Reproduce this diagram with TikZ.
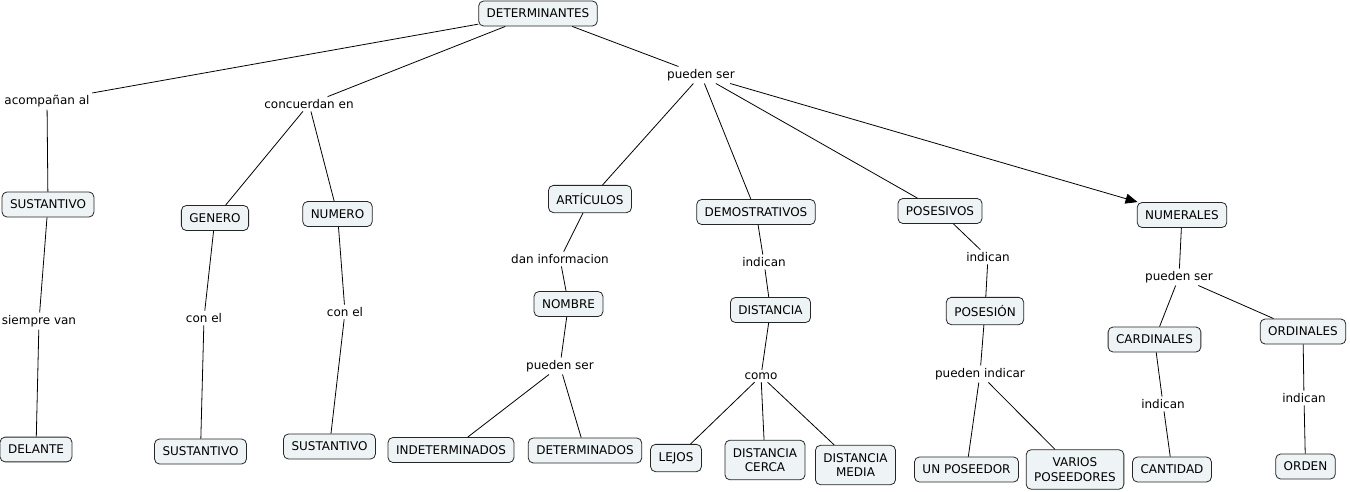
\documentclass[tikz,border=0pt]{standalone}
\usepackage{fontspec}
\setmainfont{DejaVu Sans}
\usetikzlibrary{arrows.meta}
\definecolor{cfill}{RGB}{238,244,246}
\tikzset{
  concept/.style={draw=black!85,fill=cfill,rounded corners=5pt,line width=.8pt,
    inner xsep=8pt,inner ysep=8pt,align=center,font=\fontsize{12pt}{14.5pt}\selectfont},
  link/.style={inner sep=2.5pt,font=\fontsize{12pt}{14.5pt}\selectfont},
  con/.style={line width=.8pt}
}
\begin{document}
\begin{tikzpicture}[x=1pt,y=-1pt]
\useasboundingbox (0,0) rectangle (1350,491);
\node[concept] (det) at (538,13.5) {DETERMINANTES};
\node[link] (acomp) at (47,101) {acompañan al};
\node[link] (conc) at (309,104) {concuerdan en};
\node[link] (pueden) at (701,75) {pueden ser};

\node[concept] (sust1) at (48,204.5) {SUSTANTIVO};
\node[concept] (genero) at (215,218) {GENERO};
\node[concept] (numero) at (337.5,214) {NUMERO};
\node[concept] (art) at (590,199) {ARTÍCULOS};
\node[concept] (demo) at (756,212) {DEMOSTRATIVOS};
\node[concept] (pos) at (940,211) {POSESIVOS};
\node[concept] (numer) at (1182,215) {NUMERALES};

\node[link] (siempre) at (39,321) {siempre van};
\node[link] (conel1) at (204,318) {con el};
\node[link] (conel2) at (345,312) {con el};
\node[link] (daninf) at (560,259) {dan informacion};
\node[link] (ind1) at (764,262) {indican};
\node[link] (ind2) at (988,257) {indican};
\node[link] (pueden3) at (1179,277) {pueden ser};

\node[concept] (nombre) at (568.5,304) {NOMBRE};
\node[concept] (dist) at (770.5,310) {DISTANCIA};
\node[concept] (posesion) at (985,311) {POSESIÓN};
\node[concept] (card) at (1154.5,339.5) {CARDINALES};
\node[concept] (ord) at (1303,331.5) {ORDINALES};

\node[link] (pueden2) at (560,366) {pueden ser};
\node[link] (como) at (761,376) {como};
\node[link] (pind) at (980,374) {pueden indicar};
\node[link] (ind3) at (1163,404) {indican};
\node[link] (ind4) at (1304,398) {indican};

\node[concept] (delante) at (36,449.5) {DELANTE};
\node[concept] (sust2) at (200.5,451.5) {SUSTANTIVO};
\node[concept] (sust3) at (329.5,446.5) {SUSTANTIVO};
\node[concept] (indet) at (451,450) {INDETERMINADOS};
\node[concept] (determ) at (585,450.5) {DETERMINADOS};
\node[concept] (lejos) at (676,458) {LEJOS};
\node[concept] (cerca) at (765,460) {DISTANCIA\\CERCA};
\node[concept] (media) at (855.5,465) {DISTANCIA\\MEDIA};
\node[concept] (unpos) at (966.5,469.5) {UN POSEEDOR};
\node[concept] (varios) at (1075,469.5) {VARIOS\\POSEEDORES};
\node[concept] (cant) at (1172,469.5) {CANTIDAD};
\node[concept] (orden) at (1305.5,466.5) {ORDEN};

\draw[con] (det) -- (acomp) (acomp) -- (sust1) (sust1) -- (siempre) (siempre) -- (delante);
\draw[con] (det) -- (conc) (conc) -- (genero) (conc) -- (numero);
\draw[con] (genero) -- (conel1) (conel1) -- (sust2) (numero) -- (conel2) (conel2) -- (sust3);
\draw[con] (det) -- (pueden) (pueden) -- (art) (pueden) -- (demo) (pueden) -- (pos);
\draw[con,-{Triangle[length=12pt,width=10pt]}] (pueden) -- (numer);
\draw[con] (art) -- (daninf) (daninf) -- (nombre) (nombre) -- (pueden2);
\draw[con] (pueden2) -- (indet) (pueden2) -- (determ);
\draw[con] (demo) -- (ind1) (ind1) -- (dist) (dist) -- (como);
\draw[con] (como) -- (lejos) (como) -- (cerca) (como) -- (media);
\draw[con] (pos) -- (ind2) (ind2) -- (posesion) (posesion) -- (pind);
\draw[con] (pind) -- (unpos) (pind) -- (varios);
\draw[con] (numer) -- (pueden3) (pueden3) -- (card) (pueden3) -- (ord);
\draw[con] (card) -- (ind3) (ind3) -- (cant) (ord) -- (ind4) (ind4) -- (orden);
\end{tikzpicture}
\end{document}
